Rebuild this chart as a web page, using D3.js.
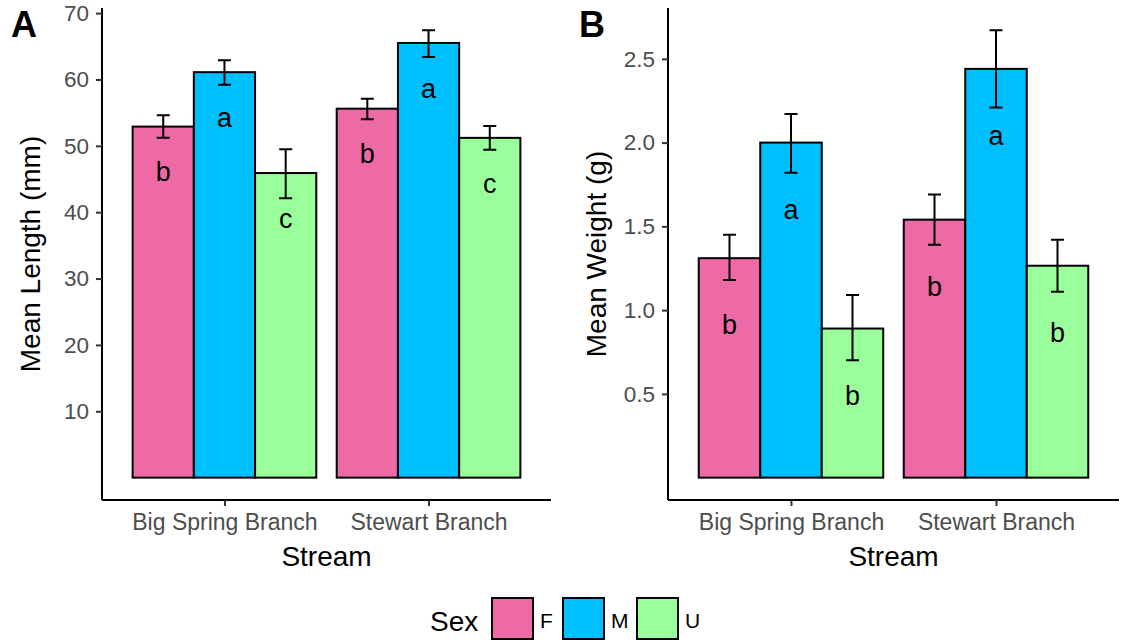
<!DOCTYPE html>
<html><head><meta charset="utf-8">
<script src="https://cdn.jsdelivr.net/npm/d3@7"></script>
<style>body{margin:0;background:#fff}svg{display:block;font-family:"Liberation Sans",Arial,sans-serif}</style>
</head><body><svg id="c" width="1122" height="642"></svg>
<script>
const streams = ["Big Spring Branch", "Stewart Branch"];
const sexes = ["F", "M", "U"];
const colors = ["#EE6AA7", "#00BFFF", "#9AFF9A"];
// Panel A: mean length (mm)
const lenMean = [[52.9, 61.1, 45.9], [55.6, 65.5, 51.2]];
const lenLo   = [[51.2, 59.2, 42.1], [54.0, 63.4, 49.4]];
const lenHi   = [[54.6, 62.9, 49.5], [57.1, 67.4, 53.0]];
const lenLetters = [["b", "a", "c"], ["b", "a", "c"]];
const lenTicks = [10, 20, 30, 40, 50, 60, 70];
// Panel B: mean weight (g)
const wtMean = [[1.31, 2.00, 0.89], [1.54, 2.44, 1.265]];
const wtLo   = [[1.18, 1.82, 0.70], [1.39, 2.21, 1.11]];
const wtHi   = [[1.45, 2.17, 1.09], [1.69, 2.67, 1.42]];
const wtLetters = [["b", "a", "b"], ["b", "a", "b"]];
const wtTicks = [0.5, 1.0, 1.5, 2.0, 2.5];

const svg = d3.select("#c");
const FONT = "Liberation Sans, Arial, sans-serif";

function panel(opt) {
  const {x0, x1, y0, y1, mean, lo, hi, letters, ticks, fmt, ylab, tag, letterOff} = opt;
  const maxV = d3.max(hi.flat());
  const pad = maxV * 0.05;
  const y = d3.scaleLinear().domain([-pad, maxV + pad]).range([y1, y0]);
  const x = d3.scaleLinear().domain([0.4, 2.6]).range([x0, x1]);
  const g = svg.append("g");
  const bw = 0.3;
  streams.forEach((s, i) => {
    sexes.forEach((sx, j) => {
      const cx = i + 1 - 0.45 + bw * j + bw / 2;
      g.append("rect")
        .attr("x", x(cx - bw / 2)).attr("width", x(cx + bw / 2) - x(cx - bw / 2))
        .attr("y", y(mean[i][j])).attr("height", y(0) - y(mean[i][j]))
        .attr("fill", colors[j]).attr("stroke", "#000").attr("stroke-width", 2);
    });
  });
  streams.forEach((s, i) => {
    sexes.forEach((sx, j) => {
      const cx = i + 1 - 0.45 + bw * j + bw / 2;
      const px = x(cx), hw = 6.5;
      const path = `M${px - hw},${y(hi[i][j])}H${px + hw}M${px},${y(hi[i][j])}V${y(lo[i][j])}M${px - hw},${y(lo[i][j])}H${px + hw}`;
      g.append("path").attr("d", path).attr("stroke", "#000").attr("stroke-width", 2).attr("fill", "none");
      g.append("text").attr("x", px).attr("y", y(mean[i][j] - letterOff))
        .attr("text-anchor", "middle").attr("dominant-baseline", "central")
        .attr("font-size", 27).attr("fill", "#000").text(letters[i][j]);
    });
  });
  // axes
  const yAxis = g.append("g").attr("transform", `translate(${x0},0)`)
    .call(d3.axisLeft(y).tickValues(ticks).tickFormat(fmt).tickSize(6).tickPadding(7));
  yAxis.select(".domain").attr("d", `M0,${y1}V${y0}`).attr("stroke", "#000").attr("stroke-width", 2);
  yAxis.selectAll(".tick line").attr("stroke", "#333").attr("stroke-width", 2);
  yAxis.selectAll(".tick text").attr("font-size", 22.5).attr("fill", "#4D4D4D").attr("font-family", FONT);
  const xAxis = g.append("g").attr("transform", `translate(0,${y1})`)
    .call(d3.axisBottom(x).tickValues([1, 2]).tickFormat(d => streams[d - 1]).tickSize(6).tickPadding(8));
  xAxis.select(".domain").attr("d", `M${x0},0H${x1}`).attr("stroke", "#000").attr("stroke-width", 2);
  xAxis.selectAll(".tick line").attr("stroke", "#333").attr("stroke-width", 2);
  xAxis.selectAll(".tick text").attr("font-size", 23).attr("fill", "#4D4D4D").attr("font-family", FONT);
  // titles
  g.append("text").attr("x", (x0 + x1) / 2).attr("y", 566).attr("text-anchor", "middle")
    .attr("font-size", 28).attr("fill", "#000").text("Stream");
  g.append("text").attr("transform", `translate(${x0 - 62},${(y0 + y1) / 2}) rotate(-90)`)
    .attr("text-anchor", "middle").attr("font-size", 28).attr("fill", "#000").text(ylab);
  g.append("text").attr("x", opt.tagX).attr("y", 37).attr("font-size", 36).attr("font-weight", "bold").attr("fill", "#000").text(tag);
}

panel({x0: 102, x1: 551, y0: 8, y1: 500, mean: lenMean, lo: lenLo, hi: lenHi, letters: lenLetters,
  ticks: lenTicks, fmt: d3.format("d"), ylab: "Mean Length (mm)", tag: "A", tagX: 11, letterOff: 6.9});
panel({x0: 668, x1: 1119, y0: 8, y1: 500, mean: wtMean, lo: wtLo, hi: wtHi, letters: wtLetters,
  ticks: wtTicks, fmt: d3.format(".1f"), ylab: "Mean Weight (g)", tag: "B", tagX: 579, letterOff: 0.4});

// legend
const lg = svg.append("g");
lg.append("text").attr("x", 430).attr("y", 631).attr("font-size", 28).attr("fill", "#000").text("Sex");
const lx = [492, 563, 637];
sexes.forEach((s, j) => {
  lg.append("rect").attr("x", lx[j]).attr("y", 598).attr("width", 41).attr("height", 41)
    .attr("fill", colors[j]).attr("stroke", "#000").attr("stroke-width", 2);
  lg.append("text").attr("x", lx[j] + 48).attr("y", 628).attr("font-size", 21).attr("fill", "#000").text(s);
});
</script></body></html>
